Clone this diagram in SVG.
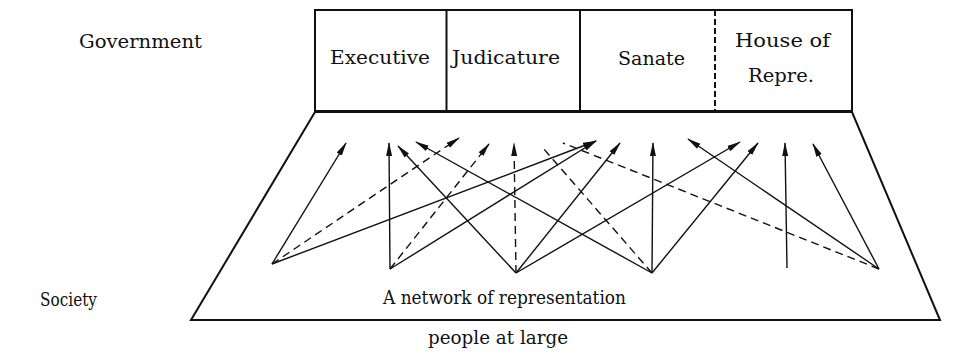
<svg xmlns="http://www.w3.org/2000/svg" width="954" height="355" viewBox="0 0 954 355">
<style>
.t{font-family:'DejaVu Serif','Liberation Serif',serif;font-size:19px;fill:#111}
.box{fill:none;stroke:#111;stroke-width:2}
.s{stroke:#111;stroke-width:1.4;fill:none}
.d{stroke:#111;stroke-width:1.4;fill:none;stroke-dasharray:8 5}
</style>
<defs>
<marker id="ah" viewBox="0 0 14 8" refX="13" refY="4" markerWidth="14" markerHeight="8" markerUnits="userSpaceOnUse" orient="auto">
<path d="M0,1 L14,4 L0,7 Z" fill="#111"/>
</marker>
</defs>
<rect width="954" height="355" fill="#fff"/>
<text class="t" x="79" y="48" textLength="123" lengthAdjust="spacingAndGlyphs">Government</text>
<text class="t" x="40" y="306" textLength="57" lengthAdjust="spacingAndGlyphs">Society</text>
<g id="government">
<rect class="box" x="315" y="10" width="537" height="101"/>
<line class="box" x1="446.5" y1="10" x2="446.5" y2="111"/>
<line class="box" x1="580" y1="10" x2="580" y2="111"/>
<line class="box" x1="715" y1="10" x2="715" y2="111" stroke-dasharray="6 3"/>
</g>
<g id="executive"><text class="t" x="330" y="64" textLength="100" lengthAdjust="spacingAndGlyphs">Executive</text></g>
<g id="judicature"><text class="t" x="452" y="64" textLength="108" lengthAdjust="spacingAndGlyphs">Judicature</text></g>
<g id="sanate"><text class="t" x="618" y="65" textLength="67" lengthAdjust="spacingAndGlyphs">Sanate</text></g>
<g id="house"><text class="t" x="735" y="47" textLength="95" lengthAdjust="spacingAndGlyphs">House of</text><text class="t" x="748" y="82" textLength="66" lengthAdjust="spacingAndGlyphs">Repre.</text></g>
<g id="society">
<polygon class="box" points="315,112 852,112 940,320 191,320"/>
<text class="t" x="383" y="304" textLength="243" lengthAdjust="spacingAndGlyphs">A network of representation</text>
<text class="t" x="428" y="344" textLength="140" lengthAdjust="spacingAndGlyphs">people at large</text>
</g>
<g id="connectors">
<line class="s" x1="272" y1="264" x2="346" y2="143" marker-end="url(#ah)"/>
<line class="d" x1="272" y1="264" x2="459" y2="138" marker-end="url(#ah)"/>
<line class="s" x1="272" y1="264" x2="596" y2="141" marker-end="url(#ah)"/>
<line class="s" x1="390" y1="269" x2="389" y2="143" marker-end="url(#ah)"/>
<line class="d" x1="390" y1="269" x2="489" y2="144" marker-end="url(#ah)"/>
<line class="s" x1="390" y1="269" x2="596" y2="141" marker-end="url(#ah)"/>
<line class="s" x1="516" y1="273" x2="398" y2="146" marker-end="url(#ah)"/>
<line class="d" x1="516" y1="273" x2="514" y2="143" marker-end="url(#ah)"/>
<line class="s" x1="516" y1="273" x2="620" y2="143" marker-end="url(#ah)"/>
<line class="s" x1="516" y1="273" x2="740" y2="142" marker-end="url(#ah)"/>
<line class="s" x1="652" y1="273" x2="416" y2="142" marker-end="url(#ah)"/>
<line class="d" x1="652" y1="273" x2="543" y2="148"/>
<line class="s" x1="652" y1="273" x2="653" y2="143" marker-end="url(#ah)"/>
<line class="s" x1="652" y1="273" x2="758" y2="143" marker-end="url(#ah)"/>
<line class="s" x1="879" y1="269" x2="688" y2="139" marker-end="url(#ah)"/>
<line class="d" x1="879" y1="269" x2="563" y2="143"/>
<line class="s" x1="879" y1="269" x2="813" y2="144" marker-end="url(#ah)"/>
<line class="s" x1="787" y1="268" x2="785" y2="143" marker-end="url(#ah)"/>
</g>
</svg>
